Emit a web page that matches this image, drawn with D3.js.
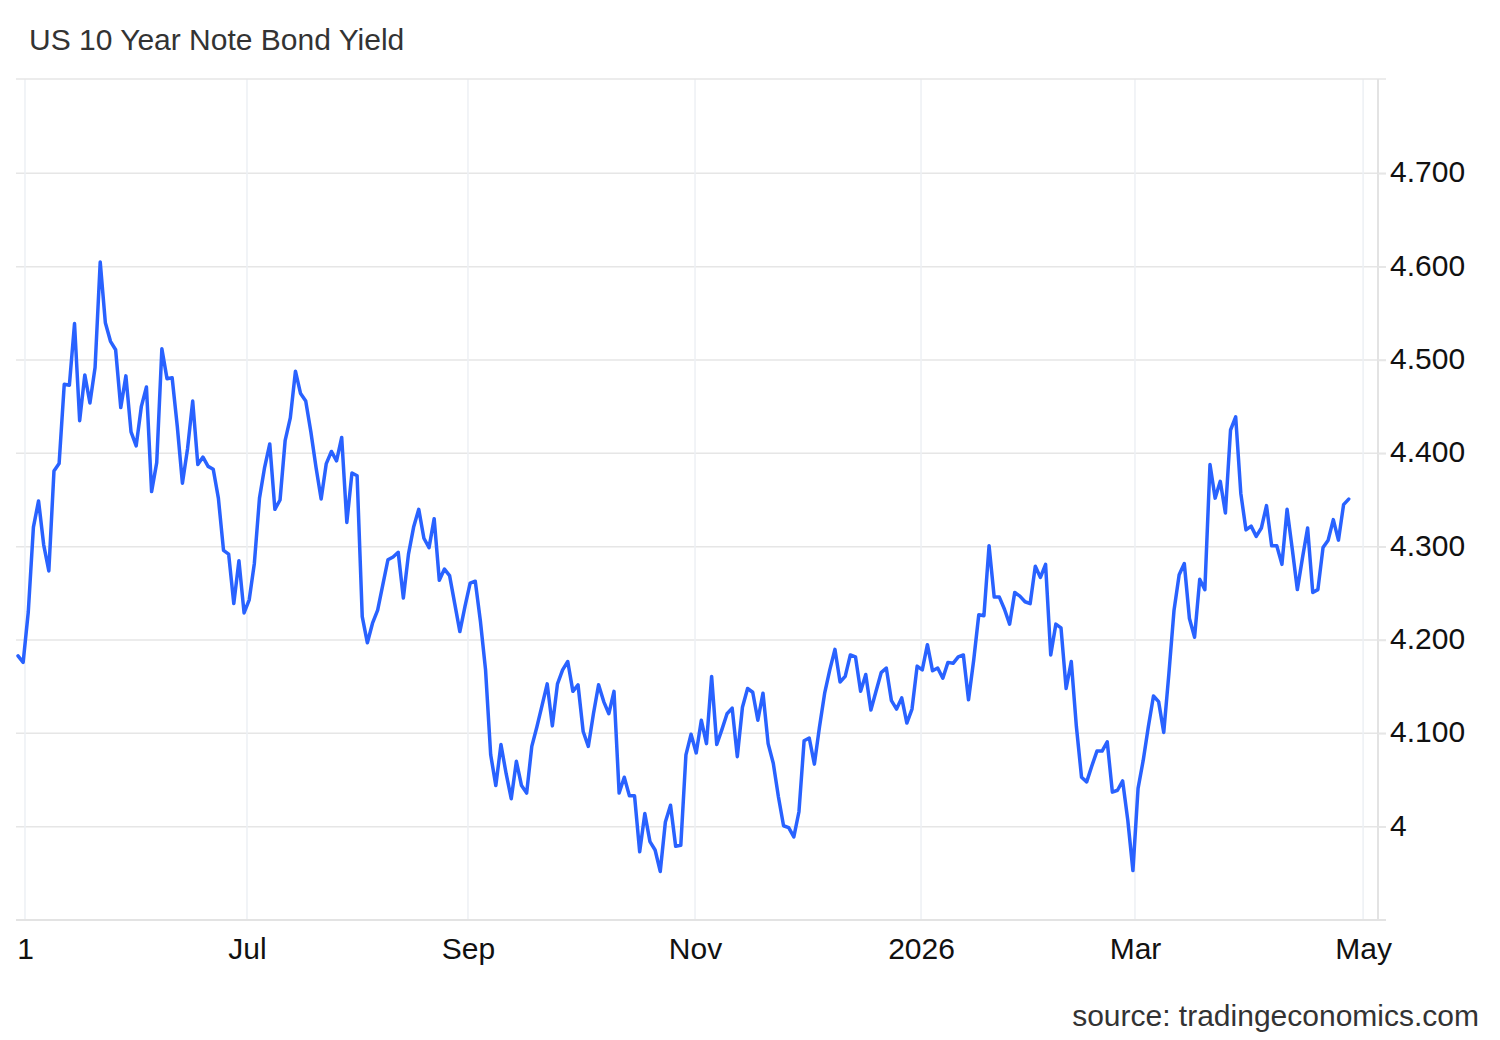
<!DOCTYPE html>
<html>
<head>
<meta charset="utf-8">
<script src="https://cdn.jsdelivr.net/npm/d3@7"></script>
<style>
  body { margin: 0; background: #fff; }
  svg { display: block; font-family: "Liberation Sans", Arial, sans-serif; }
</style>
</head>
<body>
<svg id="chart" width="1500" height="1040"></svg>
<script>
// daily closes, one per trading day
const yields = [
  4.183, 4.176, 4.230, 4.321, 4.349, 4.302, 4.274, 4.381, 4.389, 4.474,
  4.473, 4.539, 4.435, 4.484, 4.454, 4.492, 4.605, 4.540, 4.520, 4.511,
  4.449, 4.483, 4.423, 4.408, 4.450, 4.471, 4.359, 4.390, 4.512, 4.480,
  4.481, 4.429, 4.368, 4.405, 4.456, 4.388, 4.396, 4.386, 4.383, 4.352,
  4.296, 4.292, 4.239, 4.285, 4.229, 4.243, 4.282, 4.352, 4.385, 4.410,
  4.340, 4.350, 4.414, 4.438, 4.488, 4.464, 4.456, 4.423, 4.385, 4.351,
  4.389, 4.402, 4.392, 4.417, 4.326, 4.379, 4.376, 4.225, 4.197, 4.218,
  4.232, 4.259, 4.286, 4.289, 4.294, 4.245, 4.292, 4.321, 4.340, 4.309,
  4.299, 4.330, 4.264, 4.276, 4.269, 4.239, 4.209, 4.236, 4.261, 4.263,
  4.220, 4.168, 4.077, 4.044, 4.088, 4.057, 4.030, 4.070, 4.044, 4.036,
  4.086, 4.107, 4.130, 4.153, 4.108, 4.153, 4.168, 4.177, 4.145, 4.152,
  4.102, 4.086, 4.121, 4.152, 4.134, 4.121, 4.145, 4.036, 4.053, 4.033,
  4.033, 3.973, 4.014, 3.984, 3.975, 3.952, 4.005, 4.023, 3.979, 3.980,
  4.077, 4.099, 4.079, 4.114, 4.089, 4.161, 4.088, 4.104, 4.121, 4.127,
  4.075, 4.128, 4.148, 4.144, 4.114, 4.143, 4.089, 4.068, 4.032, 4.001,
  3.999, 3.989, 4.016, 4.092, 4.095, 4.067, 4.107, 4.143, 4.168, 4.190,
  4.155, 4.161, 4.184, 4.182, 4.145, 4.163, 4.125, 4.145, 4.165, 4.170,
  4.135, 4.126, 4.138, 4.111, 4.126, 4.172, 4.168, 4.195, 4.167, 4.170,
  4.159, 4.176, 4.175, 4.182, 4.184, 4.136, 4.178, 4.227, 4.226, 4.301,
  4.246, 4.246, 4.233, 4.217, 4.251, 4.247, 4.241, 4.239, 4.279, 4.267,
  4.281, 4.184, 4.217, 4.213, 4.148, 4.177, 4.107, 4.053, 4.048, 4.065,
  4.081, 4.081, 4.091, 4.037, 4.039, 4.049, 4.007, 3.953, 4.041, 4.071,
  4.107, 4.140, 4.134, 4.101, 4.164, 4.232, 4.270, 4.282, 4.223, 4.203,
  4.265, 4.254, 4.388, 4.352, 4.370, 4.336, 4.425, 4.439, 4.357, 4.318,
  4.322, 4.311, 4.320, 4.344, 4.301, 4.301, 4.281, 4.340, 4.298, 4.254,
  4.288, 4.320, 4.251, 4.254, 4.299, 4.307, 4.329, 4.307, 4.345, 4.351
];

// month starts, in trading-day units of the series above
const monthLabels = ["1", "Jul", "Sep", "Nov", "2026", "Mar", "May"];
const monthAt = [1.36, 44.57, 87.58, 131.77, 175.76, 217.4, 261.8];

const yTicks = [4.0, 4.1, 4.2, 4.3, 4.4, 4.5, 4.6, 4.7];

var plotLeft = 16, plotRight = 1378, plotTop = 79, plotBottom = 920;
var fontSize = 30;

var svg = d3.select("#chart");

var x = d3.scaleLinear()
  .domain([-0.39, 264.7])
  .range([plotLeft, plotRight]);

var y = d3.scaleLinear()
  .domain([3.9, 4.8])
  .range([plotBottom, plotTop + 1]);

function fmtYield(d) {
  return d === 4 ? "4" : d3.format(".3f")(d);
}

function drawGrid() {
  // horizontal grid
  svg.append("g")
    .selectAll("line")
    .data(yTicks)
    .join("line")
      .attr("x1", plotLeft)
      .attr("x2", plotRight + 8)
      .attr("y1", d => y(d))
      .attr("y2", d => y(d))
      .attr("stroke", "#e6e6e6")
      .attr("stroke-width", 1.5);

  // vertical grid at month starts
  svg.append("g")
    .selectAll("line")
    .data(monthAt)
    .join("line")
      .attr("x1", d => x(d))
      .attr("x2", d => x(d))
      .attr("y1", plotTop)
      .attr("y2", plotBottom)
      .attr("stroke", "#edf0f4")
      .attr("stroke-width", 1.5);

  // frame: top, bottom, right
  svg.append("line")
    .attr("x1", plotLeft).attr("x2", plotRight + 8)
    .attr("y1", plotTop).attr("y2", plotTop)
    .attr("stroke", "#e6e6e6").attr("stroke-width", 1.5);
  svg.append("line")
    .attr("x1", plotLeft).attr("x2", plotRight + 8)
    .attr("y1", plotBottom).attr("y2", plotBottom)
    .attr("stroke", "#e3e3e3").attr("stroke-width", 2);
  svg.append("line")
    .attr("x1", plotRight).attr("x2", plotRight)
    .attr("y1", plotTop).attr("y2", plotBottom)
    .attr("stroke", "#e3e3e3").attr("stroke-width", 2);
}

function drawAxes() {
  var yAxis = svg.append("g")
    .attr("transform", "translate(" + plotRight + ",0)")
    .call(d3.axisRight(y)
      .tickValues(yTicks)
      .tickSize(8)
      .tickPadding(4)
      .tickFormat(fmtYield));
  yAxis.select(".domain").remove();
  yAxis.selectAll(".tick line").attr("stroke", "#e6e6e6").attr("stroke-width", 1.5);
  yAxis.selectAll("text")
    .attr("dy", "0.28em")
    .attr("font-size", fontSize)
    .attr("font-family", "Liberation Sans, Arial, sans-serif")
    .attr("fill", "#111");

  var xAxis = svg.append("g")
    .attr("transform", "translate(0," + plotBottom + ")")
    .call(d3.axisBottom(x)
      .tickValues(monthAt)
      .tickSize(0)
      .tickPadding(18)
      .tickFormat((d, i) => monthLabels[i]));
  xAxis.select(".domain").remove();
  xAxis.selectAll("text")
    .attr("font-size", fontSize)
    .attr("font-family", "Liberation Sans, Arial, sans-serif")
    .attr("fill", "#111");
}

function drawLine() {
  var line = d3.line()
    .x((d, i) => x(i))
    .y(d => y(d));

  svg.append("path")
    .datum(yields)
    .attr("d", line)
    .attr("fill", "none")
    .attr("stroke", "#2962ff")
    .attr("stroke-width", 3.5)
    .attr("stroke-linejoin", "round")
    .attr("stroke-linecap", "round");
}

function drawText() {
  svg.append("text")
    .attr("x", 29)
    .attr("y", 50)
    .attr("font-size", fontSize)
    .attr("fill", "#333")
    .text("US 10 Year Note Bond Yield");

  svg.append("text")
    .attr("x", 1479)
    .attr("y", 1026)
    .attr("text-anchor", "end")
    .attr("font-size", fontSize)
    .attr("fill", "#333")
    .text("source: tradingeconomics.com");
}

drawGrid();
drawAxes();
drawLine();
drawText();
</script>
</body>
</html>
